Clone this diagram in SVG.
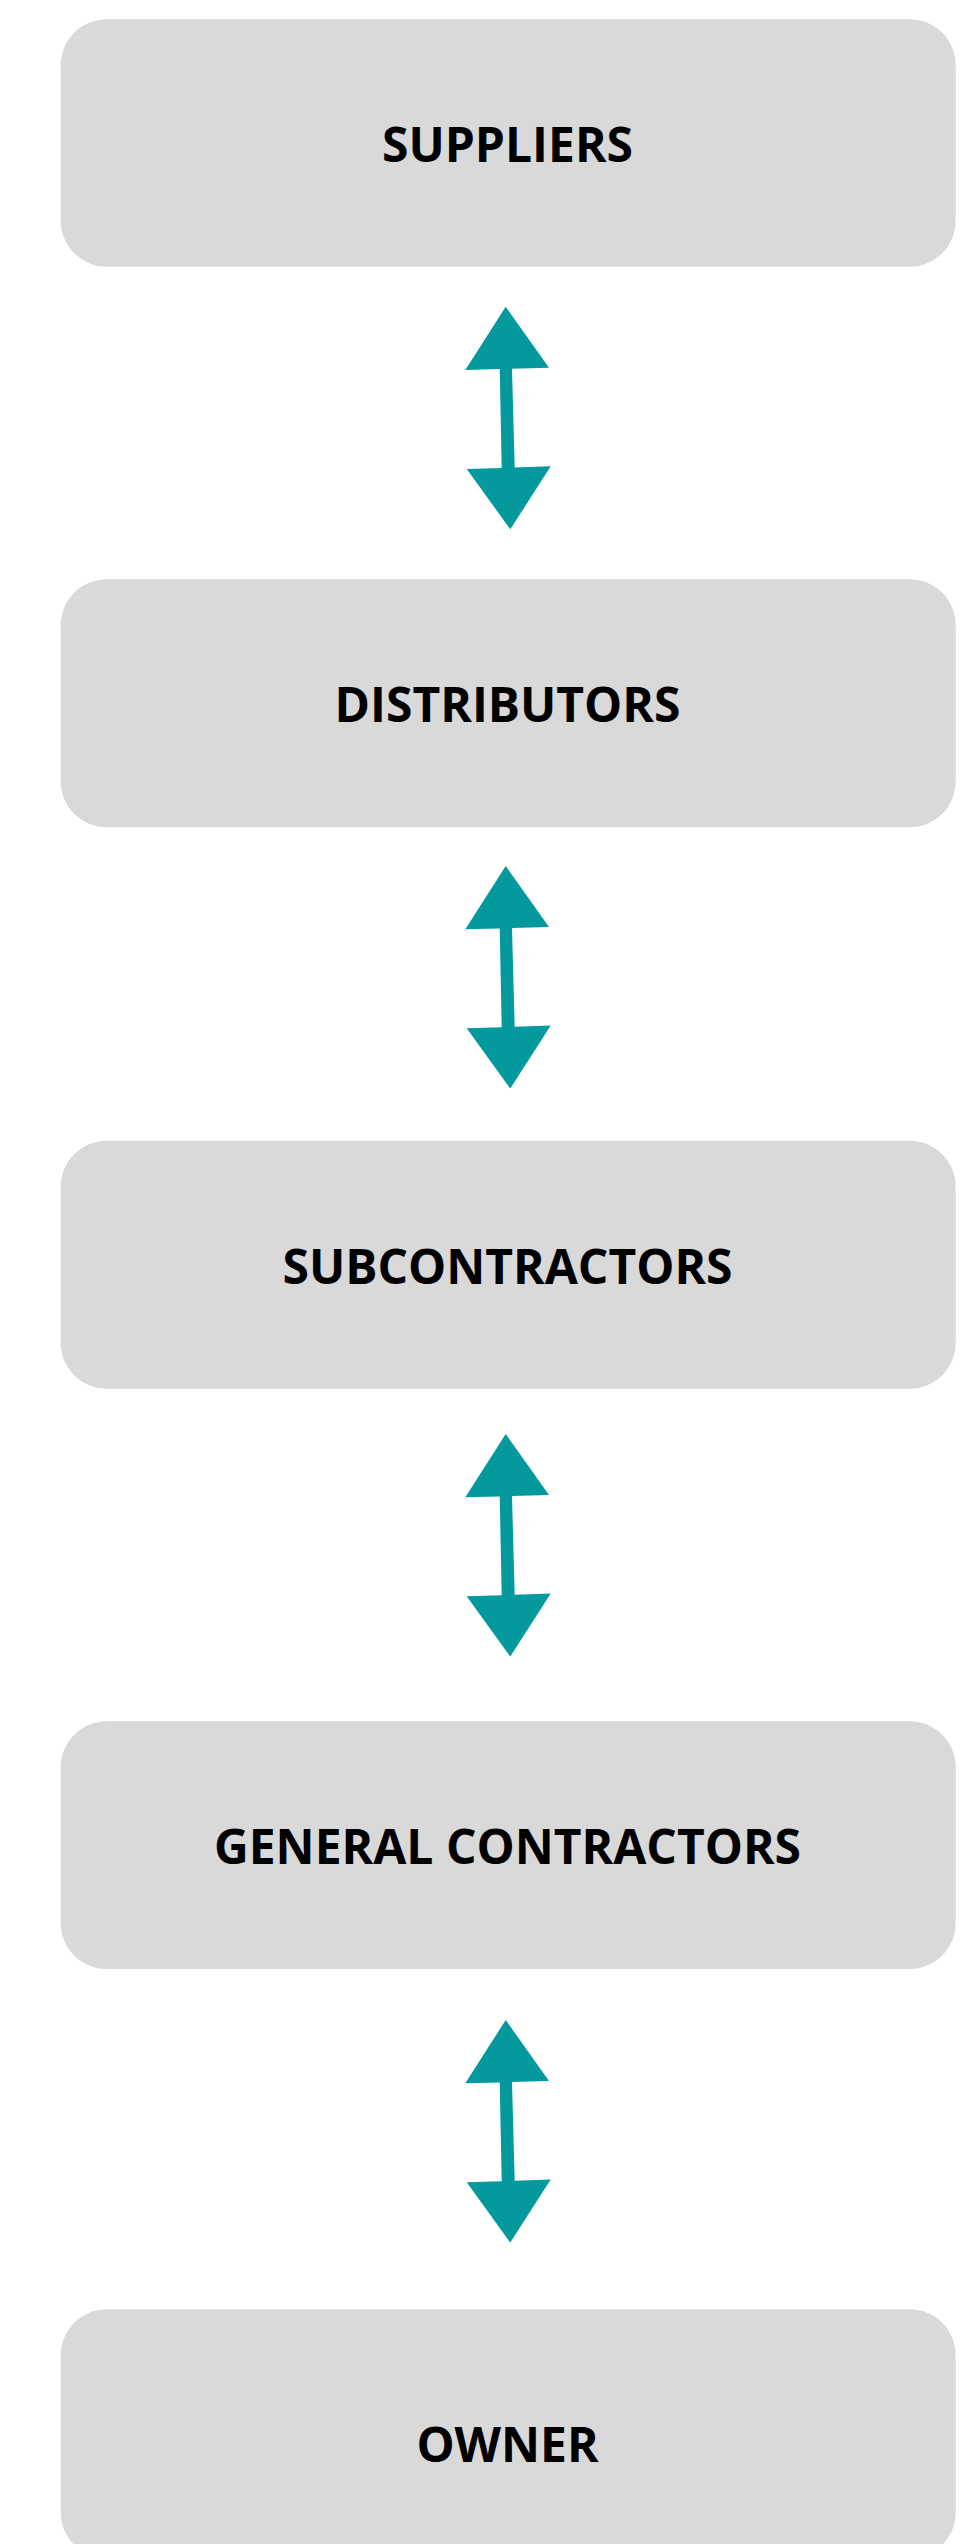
<svg xmlns="http://www.w3.org/2000/svg" width="974" height="2544" viewBox="0 0 974 2544">
<defs>
<style>
.box{fill:#d9d9d9;}
.lbl{font-family:"Open Sans","Liberation Sans",sans-serif;font-weight:700;font-size:48px;fill:#000;text-anchor:middle;}
.arr{fill:#04999d;}
</style>
<path id="dbl" d="M0,0 L43.3,61 L6.3,62.1 L9,160.8 L45,159.6 L4.6,222.6 L-39,162.3 L-4,161.2 L-6,62.4 L-40.4,63.3 Z"/>
</defs>
<rect width="974" height="2544" fill="#ffffff"/>
<g id="connectors" class="arr">
<use href="#dbl" x="505.7" y="306.7"/>
<use href="#dbl" x="505.7" y="866"/>
<use href="#dbl" x="505.7" y="1434"/>
<use href="#dbl" x="505.7" y="2020"/>
</g>
<g id="suppliers">
<rect class="box" x="60.7" y="19.3" width="895" height="247.4" rx="46" ry="46"/>
<text class="lbl" x="507.5" y="162.3">SUPPLIERS</text>
</g>
<g id="distributors">
<rect class="box" x="60.7" y="579.3" width="895" height="248" rx="46" ry="46"/>
<text class="lbl" x="507.5" y="722.3">DISTRIBUTORS</text>
</g>
<g id="subcontractors">
<rect class="box" x="60.7" y="1140.7" width="895" height="248" rx="46" ry="46"/>
<text class="lbl" x="507.5" y="1283.7">SUBCONTRACTORS</text>
</g>
<g id="general-contractors">
<rect class="box" x="60.7" y="1721.3" width="895" height="247.6" rx="46" ry="46"/>
<text class="lbl" x="507.5" y="1864">GENERAL CONTRACTORS</text>
</g>
<g id="owner">
<rect class="box" x="60.7" y="2309.3" width="895" height="249" rx="46" ry="46"/>
<text class="lbl" x="507.5" y="2461.7">OWNER</text>
</g>
</svg>
